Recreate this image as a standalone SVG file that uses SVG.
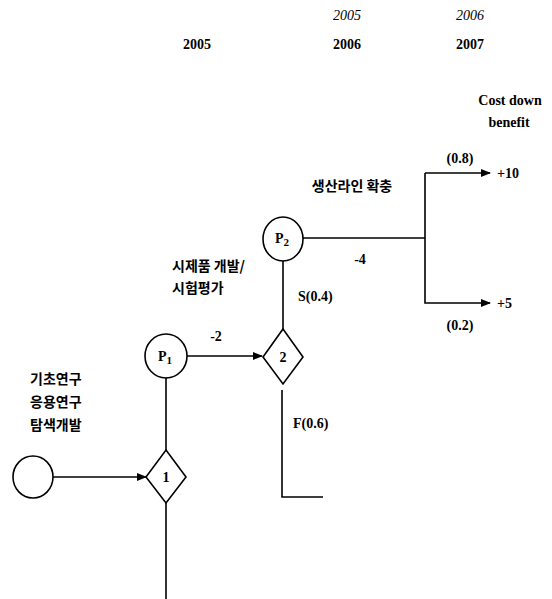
<svg xmlns="http://www.w3.org/2000/svg" width="552" height="599" viewBox="0 0 552 599">
<style>
.ln{stroke:#000;stroke-width:1.6;fill:none}
.nd{stroke:#000;stroke-width:1.6;fill:#fff}
.t{font-family:"Liberation Serif",serif;font-weight:bold;font-size:14px;fill:#000}
.ti{font-family:"Liberation Serif",serif;font-style:italic;font-size:14px;fill:#000}
.k{font-family:"Noto Sans CJK KR",sans-serif;font-weight:bold;font-size:14px;fill:#000}
.c{text-anchor:middle}
</style>
<defs>
<marker id="ah" markerWidth="10" markerHeight="8" refX="9" refY="4" orient="auto" markerUnits="userSpaceOnUse">
<path d="M0,0 L10,4 L0,8 Z" fill="#000"/>
</marker>
</defs>
<g id="headers">
<text class="ti c" x="347" y="20">2005</text>
<text class="ti c" x="470" y="20">2006</text>
<text class="t c" x="197" y="49">2005</text>
<text class="t c" x="347" y="49">2006</text>
<text class="t c" x="470" y="49">2007</text>
<text class="t c" x="510" y="105">Cost down</text>
<text class="t c" x="509" y="127">benefit</text>
</g>
<g id="connectors">
<line class="ln" x1="53" y1="477" x2="146" y2="477" marker-end="url(#ah)"/>
<line class="ln" x1="166" y1="378" x2="166" y2="450"/>
<line class="ln" x1="166" y1="503" x2="166" y2="599"/>
<line class="ln" x1="187" y1="356" x2="262" y2="356" marker-end="url(#ah)"/>
<line class="ln" x1="283" y1="261" x2="283" y2="329"/>
<polyline class="ln" points="282,390 282,497 323,497"/>
<line class="ln" x1="303" y1="238" x2="425" y2="238"/>
<polyline class="ln" points="425,173 425,303 490,303" marker-end="url(#ah)"/>
<line class="ln" x1="425" y1="173" x2="490" y2="173" marker-end="url(#ah)"/>
</g>
<g id="start"><ellipse class="nd" cx="33" cy="477" rx="20" ry="21"/></g>
<g id="d1"><polygon class="nd" points="166,450 186,477 166,503 146,477"/><text class="t c" x="166" y="482">1</text></g>
<g id="p1"><ellipse class="nd" cx="166" cy="356" rx="21" ry="22"/><text class="t c" x="165" y="361" font-size="15">P<tspan font-size="11" dy="3">1</tspan></text></g>
<g id="d2"><polygon class="nd" points="283,329 303,357 283,384 263,357"/><text class="t c" x="283" y="362">2</text></g>
<g id="p2"><ellipse class="nd" cx="283" cy="239" rx="20" ry="22"/><text class="t c" x="282" y="243" font-size="15">P<tspan font-size="11" dy="3">2</tspan></text></g>
<g id="labels">
<text class="k" x="30" y="384">기초연구</text>
<text class="k" x="30" y="407">응용연구</text>
<text class="k" x="30" y="430">탐색개발</text>
<text class="k" x="172" y="271">시제품 개발/</text>
<text class="k" x="172" y="293">시험평가</text>
<text class="k c" x="352" y="191">생산라인 확충</text>
<text class="t c" x="216" y="341">-2</text>
<text class="t c" x="360" y="264">-4</text>
<text class="t" x="298" y="301">S(0.4)</text>
<text class="t" x="293" y="428">F(0.6)</text>
<text class="t c" x="460" y="163">(0.8)</text>
<text class="t c" x="460" y="330">(0.2)</text>
<text class="t" x="497" y="178">+10</text>
<text class="t" x="497" y="308">+5</text>
</g>
</svg>
